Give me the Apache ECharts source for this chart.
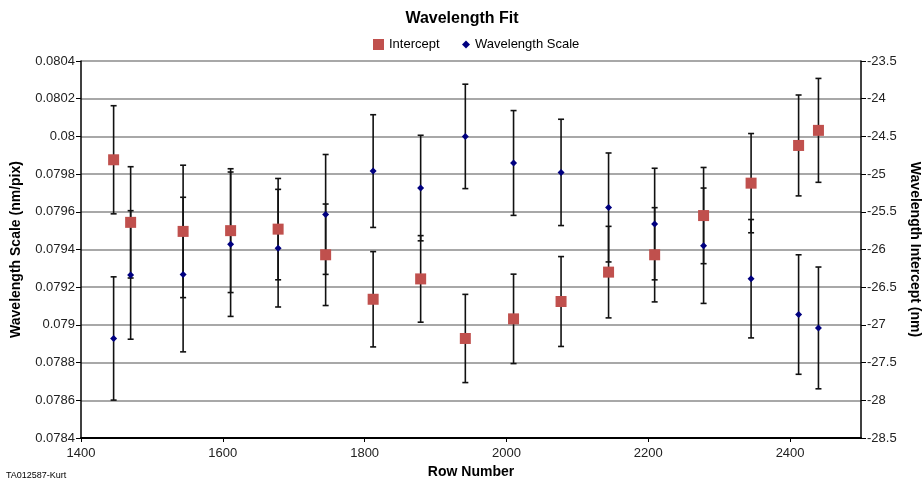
<!DOCTYPE html>
<html>
<head>
<meta charset="utf-8">
<script src="https://cdn.jsdelivr.net/npm/echarts@6/dist/echarts.min.js"></script>
<style>
  html, body { margin: 0; padding: 0; background: #fff; }
  #chart { width: 924px; height: 483px; }
</style>
</head>
<body>
<div id="chart"></div>
<script>
var rows = [1446, 1470, 1544, 1611, 1678, 1745, 1812, 1879, 1942, 2010, 2077, 2144, 2209, 2278, 2345, 2412, 2440];
var intercept = [-24.81, -25.64, -25.76, -25.75, -25.73, -26.07, -26.66, -26.39, -27.18, -26.92, -26.69, -26.30, -26.07, -25.55, -25.12, -24.62, -24.42];
var interceptErr = [0.717, 0.738, 0.878, 0.821, 0.672, 0.673, 0.632, 0.574, 0.585, 0.593, 0.596, 0.607, 0.625, 0.638, 0.658, 0.669, 0.689];
var scale = [0.078928, 0.079265, 0.079267, 0.079428, 0.079407, 0.079586, 0.079816, 0.079726, 0.080000, 0.079859, 0.079809, 0.079623, 0.079535, 0.079420, 0.079245, 0.079055, 0.078984];
var scaleErr = [0.000327, 0.000341, 0.00041, 0.000383, 0.000312, 0.000318, 0.000299, 0.00028, 0.000277, 0.000278, 0.000282, 0.000289, 0.000296, 0.000306, 0.000314, 0.000317, 0.000323];

var plain = "'Liberation Sans', Arial, sans-serif";

function pairs(vals) {
    return rows.map(function (r, i) { return [r, vals[i]]; });
}
function errData(vals, errs) {
    return rows.map(function (r, i) { return [r, vals[i] - errs[i], vals[i] + errs[i]]; });
}
// vertical bar with short caps at both ends
function renderErr(params, api) {
    var lo = api.coord([api.value(0), api.value(1)]);
    var hi = api.coord([api.value(0), api.value(2)]);
    var w = 3;
    var st = { stroke: '#111', lineWidth: 1.6 };
    return {
        type: 'group',
        children: [
            { type: 'line', shape: { x1: lo[0], y1: lo[1], x2: hi[0], y2: hi[1] }, style: st },
            { type: 'line', shape: { x1: lo[0] - w, y1: lo[1], x2: lo[0] + w, y2: lo[1] }, style: st },
            { type: 'line', shape: { x1: hi[0] - w, y1: hi[1], x2: hi[0] + w, y2: hi[1] }, style: st }
        ]
    };
}

var chart = echarts.init(document.getElementById('chart'));
chart.setOption({
    animation: false,
    backgroundColor: '#fff',
    title: {
        text: 'Wavelength Fit',
        left: 'center',
        top: 6,
        textStyle: { fontFamily: plain, fontSize: 16, fontWeight: 'bold', color: '#000' }
    },
    legend: [
        {
            left: 368, top: 33,
            itemWidth: 11, itemHeight: 11,
            data: [{ name: 'Intercept', icon: 'rect' }],
            textStyle: { fontFamily: plain, fontSize: 13, color: '#000' }
        },
        {
            left: 457, top: 33,
            itemWidth: 8, itemHeight: 8,
            data: [{ name: 'Wavelength Scale', icon: 'diamond' }],
            textStyle: { fontFamily: plain, fontSize: 13, color: '#000' }
        }
    ],
    graphic: [{
        type: 'text', left: 6, top: 471,
        style: { text: 'TA012587-Kurt', font: '9px ' + plain, fill: '#000' }
    }],
    grid: { left: 81, right: 63, top: 61, bottom: 45, outerBoundsMode: 'none', containLabel: false },
    xAxis: {
        type: 'value',
        min: 1400, max: 2500, interval: 200,
        name: 'Row Number',
        nameLocation: 'middle',
        nameGap: 26,
        nameTextStyle: { fontFamily: plain, fontSize: 14, fontWeight: 'bold', color: '#000' },
        axisLine: { lineStyle: { color: '#000', width: 2 } },
        axisTick: { length: 4, lineStyle: { color: '#000' } },
        axisLabel: {
            showMaxLabel: false, margin: 9, fontFamily: plain, fontSize: 13, color: '#222',
            formatter: function (v) { return String(v); }
        },
        splitLine: { show: false }
    },
    yAxis: [
        {
            type: 'value',
            min: 0.0784, max: 0.0804, interval: 0.0002,
            name: 'Wavelength Scale (nm/pix)',
            nameLocation: 'middle',
            nameRotate: 90,
            nameGap: 58,
            nameTextStyle: { fontFamily: plain, fontSize: 14, fontWeight: 'bold', color: '#000' },
            axisLine: { show: true, lineStyle: { color: '#000', width: 1.5 } },
            axisTick: { show: true, length: 5, lineStyle: { color: '#000' } },
            axisLabel: {
                margin: 6, fontFamily: plain, fontSize: 13, color: '#222',
                formatter: function (v) { return String(parseFloat(v.toFixed(4))); }
            },
            splitLine: { lineStyle: { color: '#a8a8a8', width: 2 } }
        },
        {
            type: 'value',
            min: -28.5, max: -23.5, interval: 0.5,
            name: 'Wavelength Intercept (nm)',
            nameLocation: 'middle',
            nameRotate: -90,
            nameGap: 46,
            nameTextStyle: { fontFamily: plain, fontSize: 14, fontWeight: 'bold', color: '#000' },
            axisLine: { show: true, lineStyle: { color: '#000', width: 1.5 } },
            axisTick: { show: true, length: 5, lineStyle: { color: '#000' } },
            axisLabel: { margin: 6, fontFamily: plain, fontSize: 13, color: '#222' },
            splitLine: { show: false }
        }
    ],
    series: [
        {
            type: 'custom', name: 'interceptErr', yAxisIndex: 1,
            renderItem: renderErr, data: errData(intercept, interceptErr), z: 2
        },
        {
            type: 'custom', name: 'scaleErr', yAxisIndex: 0,
            renderItem: renderErr, data: errData(scale, scaleErr), z: 2
        },
        {
            type: 'scatter', name: 'Intercept', yAxisIndex: 1,
            symbol: 'rect', symbolSize: 11,
            itemStyle: { color: '#c0504d', opacity: 1 },
            data: pairs(intercept), z: 3
        },
        {
            type: 'scatter', name: 'Wavelength Scale', yAxisIndex: 0,
            symbol: 'diamond', symbolSize: 7,
            itemStyle: { color: '#000080', opacity: 1 },
            data: pairs(scale), z: 4
        }
    ]
});
</script>
</body>
</html>
